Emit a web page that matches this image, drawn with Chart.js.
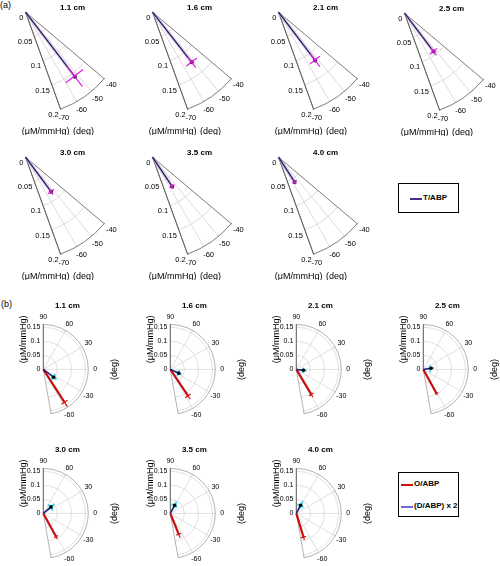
<!DOCTYPE html>
<html>
<head>
<meta charset="utf-8">
<script src="https://cdn.jsdelivr.net/npm/chart.js@4.4.0/dist/chart.umd.min.js"></script>
<style>
  body { margin: 0; background: #fff; width: 500px; height: 566px; position: relative; overflow: hidden;
         font-family: 'Liberation Sans', Arial, sans-serif; }
  canvas { position: absolute; }
  .tag { position: absolute; font-size: 9px; color: #000; }
  .legend { position: absolute; border: 1px solid #000; background: #fff; box-sizing: border-box; }
  .legend div { position: absolute; font-size: 8px; font-weight: bold; white-space: nowrap; line-height: 10px; }
  .legend span { position: absolute; height: 1.5px; }
</style>
</head>
<body>
<div class="tag" style="left:0px;top:0px">(a)</div>
<div class="tag" style="left:1px;top:299px">(b)</div>

<div class="legend" style="left:398px;top:183px;width:61px;height:30px">
  <span style="left:11px;top:14px;width:12px;background:#4b2a8a"></span>
  <div style="left:24px;top:9px">T/ABP</div>
</div>
<div class="legend" style="left:398px;top:472px;width:61px;height:45px">
  <span style="left:2px;top:11px;width:12px;background:#cc1111"></span>
  <div style="left:15px;top:6px">O/ABP</div>
  <span style="left:2px;top:33px;width:12px;background:#6a6ad8"></span>
  <div style="left:15px;top:28px">(D/ABP) x 2</div>
</div>

<script>
// panel titles (source-detector distance)
const distances = ['1.1 cm', '1.6 cm', '2.1 cm', '2.5 cm', '3.0 cm', '3.5 cm', '4.0 cm'];

// (a) T/ABP transfer: magnitude (uM/mmHg), phase (deg) and their errors
const tMag      = [0.157, 0.123, 0.117, 0.093, 0.083, 0.068, 0.057];
const tPhase    = [-52.4, -51.8, -52.6, -52.7, -53.3, -56.0, -56.8];
const tMagErr   = [0.024, 0.013, 0.015, 0.009, 0.007, 0.005, 0.005];
const tPhaseErr = [7.7, 6, 6, 5.6, 5, 5, 5];

// (b) O/ABP
const oMag      = [0.139, 0.113, 0.104, 0.096, 0.094, 0.080, 0.088];
const oPhase    = [-57, -56, -59, -61, -61, -68, -73];
const oMagErr   = [0.018, 0.014, 0.011, 0.008, 0.009, 0.013, 0.010];
const oPhaseErr = [5.5, 6, 5, 4, 5, 7, 6];

// (b) (D/ABP) x 2
const dMag      = [0.046, 0.033, 0.026, 0.028, 0.036, 0.033, 0.033];
const dPhase    = [-37, -24, -7, 9, 40, 62, 62];
const dMagErr   = [0.013, 0.011, 0.011, 0.011, 0.016, 0.014, 0.016];
const dPhaseErr = [16, 20, 22, 22, 22, 20, 22];

// axis ticks
const aRTicks = [0, 0.05, 0.1, 0.15, 0.2];
const aThetaTicks = [-70, -60, -50, -40];
const bRTicks = [0, 0.05, 0.1, 0.15];
const bThetaTicks = [-60, -30, 0, 30, 60, 90];

// page layout: origin of each polar plot on the page
const aOrigins = [[23, 9], [150, 9], [276, 9], [402, 10], [23, 154], [150, 154], [276, 154]];
const bOrigins = [[42, 370], [169, 370], [295, 370], [422, 370], [42, 514], [169, 514], [295, 514]];

const rad = d => d * Math.PI / 180;
const toXY = (r, t) => ({ x: r * Math.cos(rad(t)), y: r * Math.sin(rad(t)) });
const FONT = "'Liberation Sans', Arial, sans-serif";

// draws the wedge shaped polar grid and its labels using the chart's x/y scales
const polarGrid = {
  id: 'polarGrid',
  beforeDatasetsDraw(chart, args, o) {
    const { ctx, scales: { x, y } } = chart;
    const cx = x.getPixelForValue(0), cy = y.getPixelForValue(0);
    const R = v => x.getPixelForValue(v) - cx;
    const pt = (r, t) => { const p = toXY(r, t); return [x.getPixelForValue(p.x), y.getPixelForValue(p.y)]; };
    ctx.save();
    ctx.lineWidth = 0.7;
    ctx.strokeStyle = o.gridColor;
    o.rTicks.forEach(r => {
      if (r > 0 && r < o.rMax) {
        ctx.beginPath();
        ctx.arc(cx, cy, R(r), -rad(o.tMax), -rad(o.tMin));
        ctx.stroke();
      }
    });
    o.tTicks.forEach(t => {
      if (t > o.tMin && t < o.tMax) {
        ctx.beginPath();
        ctx.moveTo(cx, cy);
        ctx.lineTo(...pt(o.rMax, t));
        ctx.stroke();
      }
    });
    // outer boundary
    ctx.strokeStyle = o.edgeColor;
    ctx.lineWidth = 0.8;
    ctx.beginPath();
    ctx.moveTo(...pt(o.rMax, o.tMin));
    ctx.lineTo(cx, cy);
    ctx.lineTo(...pt(o.rMax, o.tMax));
    ctx.arc(cx, cy, R(o.rMax), -rad(o.tMax), -rad(o.tMin));
    ctx.stroke();
    // r axis edge
    ctx.strokeStyle = o.axisColor;
    ctx.beginPath();
    ctx.moveTo(cx, cy);
    ctx.lineTo(...pt(o.rMax, o.rAxisTheta));
    ctx.stroke();
    ctx.restore();
  },
  afterDraw(chart, args, o) {
    const { ctx, scales: { x, y } } = chart;
    const cx = x.getPixelForValue(0), cy = y.getPixelForValue(0);
    const k = x.getPixelForValue(1) - cx;
    const pt = (r, t) => { const p = toXY(r, t); return [x.getPixelForValue(p.x), y.getPixelForValue(p.y)]; };
    ctx.save();
    ctx.fillStyle = '#000';
    ctx.textBaseline = 'middle';
    // title
    ctx.font = 'bold 8px ' + FONT;
    ctx.textAlign = 'center';
    ctx.fillText(o.title, cx + o.titleDx, cy + o.titleDy);
    // theta tick labels
    ctx.font = o.tickSize + 'px ' + FONT;
    o.tTicks.forEach(t => {
      const [px, py] = pt(o.rMax + o.tLabelGap / k, t);
      ctx.fillText(String(t), px, py);
    });
    // r tick labels
    ctx.textAlign = 'right';
    o.rTicks.forEach(r => {
      const [px, py] = pt(r, o.rAxisTheta);
      ctx.fillText(String(r), px + o.rLabelDx, py + o.rLabelDy);
    });
    // unit labels
    ctx.font = o.unitSize + 'px ' + FONT;
    ctx.textAlign = 'center';
    if (o.rotateUnits) {
      ctx.save();
      ctx.translate(cx + o.rUnitPos[0], cy + o.rUnitPos[1]);
      ctx.rotate(-Math.PI / 2);
      ctx.fillText('(\u03BCM/mmHg)', 0, 0);
      ctx.restore();
      ctx.save();
      ctx.translate(cx + o.tUnitPos[0], cy + o.tUnitPos[1]);
      ctx.rotate(-Math.PI / 2);
      ctx.fillText('(deg)', 0, 0);
      ctx.restore();
    } else {
      ctx.fillText('(\u03BCM/mmHg)', cx + o.rUnitPos[0], cy + o.rUnitPos[1]);
      ctx.fillText('(deg)', cx + o.tUnitPos[0], cy + o.tUnitPos[1]);
    }
    ctx.restore();
  }
};

function seg(a, b, color, width) {
  return { data: [a, b], showLine: true, borderColor: color, borderWidth: width, pointRadius: 0, borderCapStyle: 'butt' };
}

function makeChart(left, top, w, h, ox, oy, k, datasets, grid) {
  const canvas = document.createElement('canvas');
  canvas.width = w; canvas.height = h;
  canvas.style.left = left + 'px'; canvas.style.top = top + 'px';
  document.body.appendChild(canvas);
  return new Chart(canvas.getContext('2d'), {
    type: 'scatter',
    data: { datasets: datasets },
    options: {
      responsive: false,
      animation: false,
      events: [],
      layout: { padding: 0 },
      scales: {
        x: { type: 'linear', display: false, min: -ox / k, max: (w - ox) / k },
        y: { type: 'linear', display: false, min: -(h - oy) / k, max: oy / k }
      },
      plugins: { legend: { display: false }, tooltip: { enabled: false }, polarGrid: grid }
    },
    plugins: [polarGrid]
  });
}

// (a) panels
distances.forEach((title, i) => {
  const [gx, gy] = aOrigins[i];
  const ox = 23, oy = 14, k = 550;
  const m = tMag[i], p = tPhase[i], em = tMagErr[i], ep = tPhaseErr[i];
  const O = { x: 0, y: 0 };
  const ds = [
    seg(toXY(m - em, p), toXY(m + em, p), '#e01fe0', 1.2),
    seg(toXY(m, p - ep), toXY(m, p + ep), '#e01fe0', 1.2),
    { data: [O, toXY(m, p)], showLine: true, borderColor: '#2c1658', borderWidth: 1.3,
      pointRadius: [0, 2], pointBackgroundColor: '#140a28', pointBorderWidth: 0 },
    seg(O, toXY(m, p), 'rgba(200,178,235,0.5)', 3.5)
  ];
  makeChart(gx - ox, gy - oy, 126, 140, ox, oy, k, ds, {
    title: title, titleDx: 47, titleDy: -4,
    rMax: 0.2, tMin: -70, tMax: -40, rTicks: aRTicks, tTicks: aThetaTicks, rAxisTheta: -70,
    gridColor: '#cdcdcd', edgeColor: '#5a5a5a', axisColor: '#5a5a5a',
    tLabelGap: 9, rLabelDx: -2, rLabelDy: 5.5, tickSize: 7.5, unitSize: 9,
    rotateUnits: false, rUnitPos: [20, 119], tUnitPos: [58, 119]
  });
});

// (b) panels
distances.forEach((title, i) => {
  const [gx, gy] = bOrigins[i];
  const ox = 42, oy = 80, k = 300;
  const O = { x: 0, y: 0 };
  const ds = [
    { data: [O, toXY(dMag[i], dPhase[i])], showLine: true, borderColor: '#1c1c7a', borderWidth: 1.5,
      pointRadius: [0, 1.8], pointBackgroundColor: '#000', pointBorderWidth: 0 },
    seg(toXY(dMag[i] - dMagErr[i], dPhase[i]), toXY(dMag[i] + dMagErr[i], dPhase[i]), '#40d8ee', 2),
    seg(toXY(dMag[i], dPhase[i] - dPhaseErr[i]), toXY(dMag[i], dPhase[i] + dPhaseErr[i]), '#40d8ee', 2),
    seg(toXY(oMag[i] - oMagErr[i], oPhase[i]), toXY(oMag[i] + oMagErr[i], oPhase[i]), '#d01515', 1.2),
    seg(toXY(oMag[i], oPhase[i] - oPhaseErr[i]), toXY(oMag[i], oPhase[i] + oPhaseErr[i]), '#d01515', 1.2),
    seg(O, toXY(oMag[i], oPhase[i]), '#c80f0f', 2.2)
  ];
  makeChart(gx - ox, gy - oy, 126, 140, ox, oy, k, ds, {
    title: title, titleDx: 24, titleDy: -64,
    rMax: 0.16, tMin: -80, tMax: 90, rTicks: bRTicks, tTicks: bThetaTicks, rAxisTheta: 90,
    gridColor: '#d2d2d2', edgeColor: '#a0a0a0', axisColor: '#555',
    tLabelGap: 7, rLabelDx: -3, rLabelDy: 0, tickSize: 7, unitSize: 9,
    rotateUnits: true, rUnitPos: [-20, -30], tUnitPos: [71, 0]
  });
});
</script>
</body>
</html>
